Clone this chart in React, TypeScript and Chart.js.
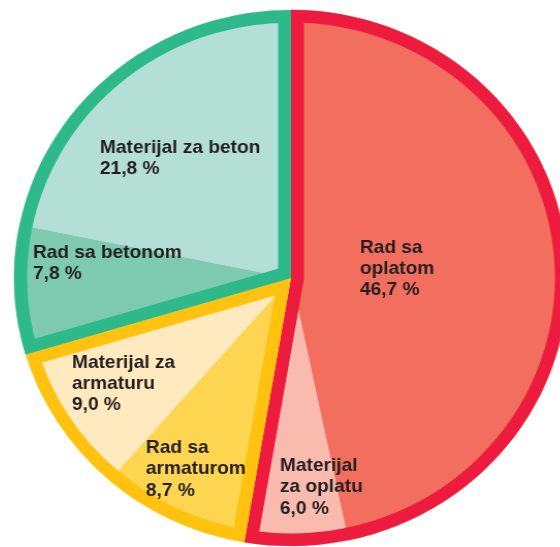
import React, { useEffect, useRef } from "react";
import { Chart, registerables } from "chart.js";

Chart.register(...registerables);

// ---- data ----
const categories = [
  "Rad sa oplatom",
  "Materijal za oplatu",
  "Rad sa armaturom",
  "Materijal za armaturu",
  "Rad sa betonom",
  "Materijal za beton",
];
const labelLines = [
  ["Rad sa", "oplatom"],
  ["Materijal", "za oplatu"],
  ["Rad sa", "armaturom"],
  ["Materijal za", "armaturu"],
  ["Rad sa betonom"],
  ["Materijal za beton"],
];
const values = [46.7, 6.0, 8.7, 9.0, 7.8, 21.8];
const sliceColors = ["#F26F5F", "#F9BBAD", "#FED550", "#FFE9BF", "#7ECAB1", "#B3DFD4"];

const groupMembers = [
  [0, 1],
  [2, 3],
  [4, 5],
];
const groupColors = ["#ED1B3D", "#FFC20F", "#2EB98B"];

// label anchor (left edge, first line centre) as fractions of the radius from the pie centre
const labelAnchors = [
  [0.249, -0.113],
  [-0.04, 0.701],
  [-0.524, 0.634],
  [-0.791, 0.316],
  [-0.932, -0.094],
  [-0.69, -0.486],
];

const BORDER = 12.5;
const FONT = 'bold 18.5px "Liberation Sans", Arial, sans-serif';
const LINE_H = 21.3;

const fmt = (v: number) => v.toFixed(1).replace(".", ",") + " %";

const groupBorderPlugin = {
  id: "groupBorders",
  afterDatasetsDraw(chart: any) {
    const meta = chart.getDatasetMeta(0);
    const arcs = meta.data;
    if (!arcs.length) return;
    const ctx = chart.ctx;
    groupMembers.forEach((members, g) => {
      const first = arcs[members[0]];
      const last = arcs[members[members.length - 1]];
      const { x, y, outerRadius } = first.getProps(["x", "y", "outerRadius"], true);
      const start = first.startAngle;
      const end = last.endAngle;
      ctx.save();
      ctx.beginPath();
      ctx.moveTo(x, y);
      ctx.arc(x, y, outerRadius, start, end);
      ctx.closePath();
      ctx.clip();
      ctx.lineWidth = BORDER * 2;
      ctx.lineJoin = "miter";
      ctx.miterLimit = 20;
      ctx.strokeStyle = groupColors[g];
      ctx.stroke();
      ctx.restore();
    });
  },
};

const labelPlugin = {
  id: "sliceLabels",
  afterDraw(chart: any) {
    const meta = chart.getDatasetMeta(0);
    const arcs = meta.data;
    if (!arcs.length) return;
    const ctx = chart.ctx;
    const { x, y, outerRadius } = arcs[0].getProps(["x", "y", "outerRadius"], true);
    ctx.save();
    ctx.font = FONT;
    ctx.fillStyle = "#231F20";
    ctx.textAlign = "left";
    ctx.textBaseline = "middle";
    categories.forEach((_, i) => {
      const lines = [...labelLines[i], fmt(values[i])];
      const lx = x + labelAnchors[i][0] * outerRadius;
      const ly = y + labelAnchors[i][1] * outerRadius;
      lines.forEach((t, k) => ctx.fillText(t, lx, ly + k * LINE_H));
    });
    ctx.restore();
  },
};

export default function App() {
  const ref = useRef<HTMLCanvasElement | null>(null);
  useEffect(() => {
    document.body.style.overflow = "hidden";
    document.body.style.background = "#ffffff";
    const chart = new Chart(ref.current as HTMLCanvasElement, {
      type: "pie",
      data: {
        labels: categories,
        datasets: [
          {
            data: values,
            backgroundColor: sliceColors,
            borderColor: sliceColors,
            borderWidth: 1,
            hoverOffset: 0,
            radius: 268,
          } as any,
        ],
      },
      options: {
        responsive: true,
        maintainAspectRatio: false,
        animation: false,
        events: [],
        rotation: 0,
        layout: { padding: 0 },
        plugins: {
          legend: { display: false },
          tooltip: { enabled: false },
        },
      } as any,
      plugins: [groupBorderPlugin, labelPlugin],
    });
    return () => chart.destroy();
  }, []);
  return (
    <div
      style={{
        position: "fixed",
        left: 11,
        top: -2,
        width: 560,
        height: 560,
        transform: "scaleX(1.033)",
        transformOrigin: "280px 280px",
      }}
    >
      <canvas ref={ref} />
    </div>
  );
}
